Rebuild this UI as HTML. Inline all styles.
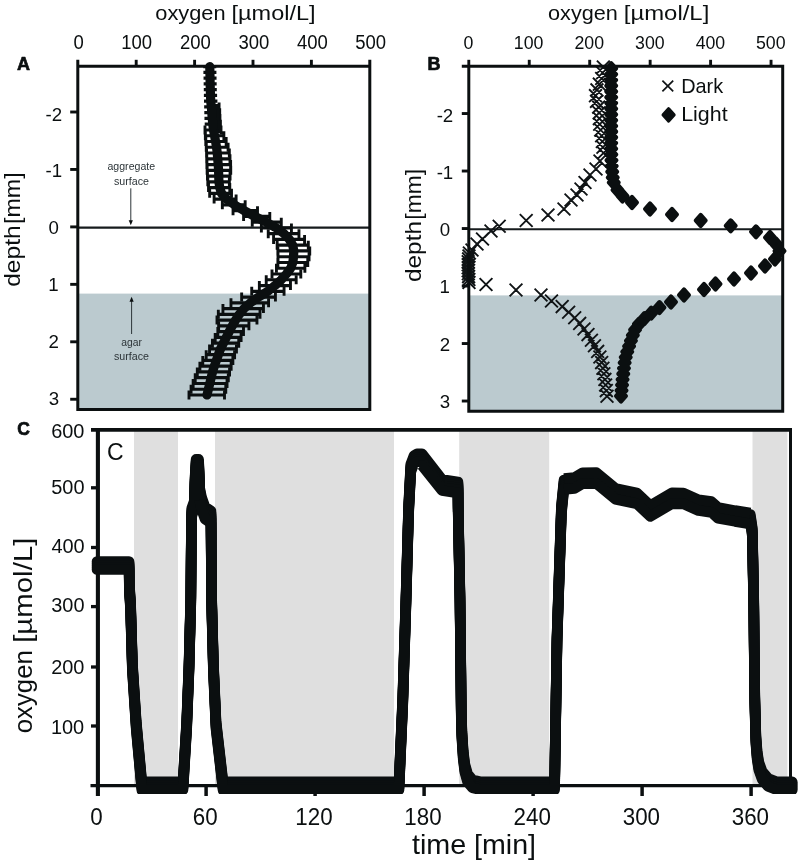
<!DOCTYPE html>
<html lang="en"><head><meta charset="utf-8"><title>Oxygen microprofiles</title>
<style>html,body{margin:0;padding:0;background:#fff}svg{display:block;will-change:transform}text{font-family:'Liberation Sans', 'DejaVu Sans', sans-serif}</style>
</head><body>
<svg width="800" height="862" viewBox="0 0 800 862" font-family="'Liberation Sans', 'DejaVu Sans', sans-serif">
<rect width="800" height="862" fill="#fff"/>
<g id="panelA">
<rect x="77.8" y="293.6" width="292" height="115.9" fill="#bbcacf"/>
<line x1="77.8" y1="227.6" x2="369.8" y2="227.6" stroke="#161b1d" stroke-width="2.1"/>
<clipPath id="clipA"><rect x="77.8" y="66.3" width="292" height="343.2"/></clipPath>
<g clip-path="url(#clipA)">
<path d="M203.28 66.6H216.28M203.41 72.36H216.41M203.54 78.12H216.54M203.66 83.88H216.66M203.79 89.65H216.79M203.88 95.41H217.09M203.97 101.17H217.4M204.16 106.93H219.07M204.32 112.69H219.7M204.46 118.45H219.94M204.71 124.21H220.42M205 129.98H221M205.36 135.74H223.87M205.79 141.5H226.17M206.27 147.26H228.09M206.58 153.02H229.34M206.74 158.78H229.98M206.9 164.54H230.62M207.14 170.31H230.73M207.47 176.07H230.05M207.81 181.83H229.37M208.52 187.59H229.78M209.67 193.35H231.51M214.11 199.11H236.11M222.34 204.87H245.16M233.04 210.64H257.5M243.59 216.4H269.79M252.25 222.16H281.28M261.38 227.92H291.42M268.24 233.68H298.96M273.58 239.44H304.58M277.15 245.2H308.3M277.87 250.96H309.74M278 256.73H309.05M277.88 262.49H307.76M276.44 268.25H304.88M271.99 274.01H300.79M266.23 279.77H296.18M259.36 285.53H290.47M251.73 291.29H284.06M241.65 297.06H275.42M230.97 302.82H268.58M222.94 308.58H263.45M218.33 314.34H260M217 320.1H256.95M218.61 325.86H248.92M217.84 331.62H243.49M215.2 337.39H241.09M212.43 343.15H238.74M209.55 348.91H236.44M206.2 354.67H234.6M202.78 360.43H232.87M199.9 366.19H231.14M197.3 371.95H229.57M195.22 377.72H228.3M193.15 383.48H227.04M191.07 389.24H225.77M189 395H224.5" stroke="#0b0f10" stroke-width="3.2" fill="none"/>
<path d="M219.07 102.43v9M219.7 108.19v9M219.94 113.95v9M220.42 119.71v9M221 125.48v9M205 125.48v9M223.87 131.24v9M205.36 131.24v9M226.17 137v9M205.79 137v9M228.09 142.76v9M206.27 142.76v9M229.34 148.52v9M206.58 148.52v9M229.98 154.28v9M206.74 154.28v9M230.62 160.04v9M206.9 160.04v9M230.73 165.81v9M207.14 165.81v9M230.05 171.57v9M207.47 171.57v9M229.37 177.33v9M207.81 177.33v9M229.78 183.09v9M208.52 183.09v9M231.51 188.85v9M209.67 188.85v9M236.11 194.61v9M214.11 194.61v9M245.16 200.37v9M222.34 200.37v9M257.5 206.14v9M233.04 206.14v9M269.79 211.9v9M243.59 211.9v9M281.28 217.66v9M252.25 217.66v9M291.42 223.42v9M261.38 223.42v9M298.96 229.18v9M268.24 229.18v9M304.58 234.94v9M273.58 234.94v9M308.3 240.7v9M277.15 240.7v9M309.74 246.46v9M277.87 246.46v9M309.05 252.23v9M278 252.23v9M307.76 257.99v9M277.88 257.99v9M304.88 263.75v9M276.44 263.75v9M300.79 269.51v9M271.99 269.51v9M296.18 275.27v9M266.23 275.27v9M290.47 281.03v9M259.36 281.03v9M284.06 286.79v9M251.73 286.79v9M275.42 292.56v9M241.65 292.56v9M268.58 298.32v9M230.97 298.32v9M263.45 304.08v9M222.94 304.08v9M260 309.84v9M218.33 309.84v9M256.95 315.6v9M217 315.6v9M248.92 321.36v9M218.61 321.36v9M243.49 327.12v9M217.84 327.12v9M241.09 332.89v9M215.2 332.89v9M238.74 338.65v9M212.43 338.65v9M236.44 344.41v9M209.55 344.41v9M234.6 350.17v9M206.2 350.17v9M232.87 355.93v9M202.78 355.93v9M231.14 361.69v9M199.9 361.69v9M229.57 367.45v9M197.3 367.45v9M228.3 373.22v9M195.22 373.22v9M227.04 378.98v9M193.15 378.98v9M225.77 384.74v9M191.07 384.74v9M224.5 390.5v9M189 390.5v9" stroke="#0b0f10" stroke-width="2.9" fill="none"/>
<path d="M211.35 106.93H219.07M211.81 112.69H219.7M212.2 118.45H219.94M212.81 124.21H220.42M213.5 129.98H221" stroke="#0b0f10" stroke-width="6" fill="none"/>
</g>
<polyline points="209.78,66.6 209.91,72.36 210.04,78.12 210.16,83.88 210.29,89.65 210.51,95.41 210.73,101.17 211.35,106.93 211.81,112.69 212.2,118.45 212.81,124.21 213.5,129.98 214.58,135.74 215.58,141.5 216.54,147.26 217.25,153.02 217.73,158.78 218.21,164.54 218.57,170.31 218.74,176.07 218.91,181.83 219.78,187.59 221.51,193.35 226.7,199.11 234.52,204.87 244.04,210.64 254.79,216.4 266.28,222.16 276.42,227.92 283.96,233.68 289.37,239.44 292.73,245.2 293.81,250.96 293.53,256.73 292.82,262.49 290.66,268.25 286.39,274.01 281.21,279.77 274.91,285.53 267.9,291.29 258.53,297.06 250.38,302.82 243.94,308.58 239.33,314.34 235.61,320.1 232.25,325.86 229.19,331.62 226.31,337.39 223.43,343.15 220.55,348.91 218.37,354.67 216.35,360.43 214.33,366.19 212.53,371.95 211.15,377.72 209.77,383.48 208.38,389.24 207,395" fill="none" stroke="#0b0f10" stroke-width="9.2" stroke-linejoin="round" stroke-linecap="round"/>
<path d="M77.8 59.8V409.5H369.8V59.8M77.8 66.3H369.8" fill="none" stroke="#0b0f10" stroke-width="3"/>
<text transform="translate(73.55 48.71) scale(0.9550 1)" font-size="19.39" font-weight="normal" fill="#0b0f10">0</text>
<line x1="136.2" y1="59.8" x2="136.2" y2="66.3" stroke="#0b0f10" stroke-width="2.9"/>
<text transform="translate(121.3 48.71) scale(0.9550 1)" font-size="19.39" font-weight="normal" fill="#0b0f10">100</text>
<line x1="194.6" y1="59.8" x2="194.6" y2="66.3" stroke="#0b0f10" stroke-width="2.9"/>
<text transform="translate(179.95 48.71) scale(0.9550 1)" font-size="19.39" font-weight="normal" fill="#0b0f10">200</text>
<line x1="253" y1="59.8" x2="253" y2="66.3" stroke="#0b0f10" stroke-width="2.9"/>
<text transform="translate(238.44 48.71) scale(0.9550 1)" font-size="19.39" font-weight="normal" fill="#0b0f10">300</text>
<line x1="311.4" y1="59.8" x2="311.4" y2="66.3" stroke="#0b0f10" stroke-width="2.9"/>
<text transform="translate(296.99 48.71) scale(0.9550 1)" font-size="19.39" font-weight="normal" fill="#0b0f10">400</text>
<text transform="translate(355.24 48.71) scale(0.9550 1)" font-size="19.39" font-weight="normal" fill="#0b0f10">500</text>
<line x1="70.2" y1="112" x2="77.8" y2="112" stroke="#0b0f10" stroke-width="2.9"/>
<text transform="translate(45.55 120.53)" font-size="18.68" font-weight="normal" fill="#0b0f10">-2</text>
<line x1="70.2" y1="169.45" x2="77.8" y2="169.45" stroke="#0b0f10" stroke-width="2.9"/>
<text transform="translate(45.55 177.47)" font-size="18.68" font-weight="normal" fill="#0b0f10">-1</text>
<line x1="70.2" y1="226.9" x2="77.8" y2="226.9" stroke="#0b0f10" stroke-width="2.9"/>
<text transform="translate(48.6 234.41)" font-size="18.68" font-weight="normal" fill="#0b0f10">0</text>
<line x1="70.2" y1="284.35" x2="77.8" y2="284.35" stroke="#0b0f10" stroke-width="2.9"/>
<text transform="translate(48.35 291.35)" font-size="18.68" font-weight="normal" fill="#0b0f10">1</text>
<line x1="70.2" y1="341.8" x2="77.8" y2="341.8" stroke="#0b0f10" stroke-width="2.9"/>
<text transform="translate(48.6 348.29)" font-size="18.68" font-weight="normal" fill="#0b0f10">2</text>
<line x1="70.2" y1="399.25" x2="77.8" y2="399.25" stroke="#0b0f10" stroke-width="2.9"/>
<text transform="translate(48.63 405.23)" font-size="18.68" font-weight="normal" fill="#0b0f10">3</text>
<text transform="translate(155.25 19.7) scale(1.0390 1)" font-size="21" font-weight="normal" fill="#0b0f10">oxygen</text>
<text transform="translate(231.55 19.7) scale(1.1196 1)" font-size="21" font-weight="normal" fill="#0b0f10">[µmol/L]</text>
<text transform="translate(20.4 286.82) rotate(-90) scale(1.0785 1)" font-size="22.8" font-weight="normal" fill="#0b0f10">depth</text>
<text transform="translate(20.4 224.03) rotate(-90) scale(1.0206 1)" font-size="22.8" font-weight="normal" fill="#0b0f10">[mm]</text>
<text transform="translate(17 70.2)" font-size="18" text-anchor="start" font-weight="bold" fill="#0b0f10" stroke="#0b0f10" stroke-width="0.7" stroke-linejoin="round">A</text>
<text transform="translate(131.3 169.9) scale(1.0405 1)" font-size="10.2" text-anchor="middle" font-weight="normal" fill="#2c3438">aggregate</text>
<text transform="translate(131.5 184.5) scale(1.0463 1)" font-size="10.2" text-anchor="middle" font-weight="normal" fill="#2c3438">surface</text>
<path d="M130.8 188.3V221" stroke="#2c3438" stroke-width="1" fill="none"/>
<path d="M128.7 220.2H132.9L130.8 225.3Z" fill="#0b0f10"/>
<path d="M131.6 334V301" stroke="#2c3438" stroke-width="1" fill="none"/>
<path d="M129.5 301.8H133.7L131.6 296.8Z" fill="#0b0f10"/>
<text transform="translate(131.6 345.5) scale(1.0139 1)" font-size="10.2" text-anchor="middle" font-weight="normal" fill="#2c3438">agar</text>
<text transform="translate(131.5 360) scale(1.0463 1)" font-size="10.2" text-anchor="middle" font-weight="normal" fill="#2c3438">surface</text>
</g>
<g id="panelB">
<rect x="468.8" y="295.4" width="313.9" height="115.8" fill="#bbcacf"/>
<line x1="468.8" y1="229.3" x2="782.7" y2="229.3" stroke="#161b1d" stroke-width="2.1"/>
<path d="M596.91 60.6l12.8 12.8M596.91 73.4l12.8 -12.8M596.2 66.33l12.8 12.8M596.2 79.13l12.8 -12.8M595.25 72.06l12.8 12.8M595.25 84.86l12.8 -12.8M592.93 77.79l12.8 12.8M592.93 90.59l12.8 -12.8M590.55 83.52l12.8 12.8M590.55 96.32l12.8 -12.8M589.09 89.25l12.8 12.8M589.09 102.05l12.8 -12.8M590.11 94.98l12.8 12.8M590.11 107.78l12.8 -12.8M592.24 100.71l12.8 12.8M592.24 113.51l12.8 -12.8M592.76 106.44l12.8 12.8M592.76 119.24l12.8 -12.8M592.95 112.17l12.8 12.8M592.95 124.97l12.8 -12.8M593.32 117.9l12.8 12.8M593.32 130.7l12.8 -12.8M594.27 123.63l12.8 12.8M594.27 136.43l12.8 -12.8M595.23 129.36l12.8 12.8M595.23 142.16l12.8 -12.8M595.95 135.09l12.8 12.8M595.95 147.89l12.8 -12.8M596.52 140.82l12.8 12.8M596.52 153.62l12.8 -12.8M597.1 146.55l12.8 12.8M597.1 159.35l12.8 -12.8M593.6 154.6l12.8 12.8M593.6 167.4l12.8 -12.8M589.6 162.6l12.8 12.8M589.6 175.4l12.8 -12.8M583.6 168.6l12.8 12.8M583.6 181.4l12.8 -12.8M578.6 176.1l12.8 12.8M578.6 188.9l12.8 -12.8M574.6 182.6l12.8 12.8M574.6 195.4l12.8 -12.8M570.6 188.6l12.8 12.8M570.6 201.4l12.8 -12.8M564.6 193.6l12.8 12.8M564.6 206.4l12.8 -12.8M557.6 202.6l12.8 12.8M557.6 215.4l12.8 -12.8M541.6 208.6l12.8 12.8M541.6 221.4l12.8 -12.8M519.8 214.1l12.8 12.8M519.8 226.9l12.8 -12.8M492.8 219.8l12.8 12.8M492.8 232.6l12.8 -12.8M484.6 224.6l12.8 12.8M484.6 237.4l12.8 -12.8M476.1 232.6l12.8 12.8M476.1 245.4l12.8 -12.8M470.6 237.6l12.8 12.8M470.6 250.4l12.8 -12.8M465.6 243.6l12.8 12.8M465.6 256.4l12.8 -12.8M462.97 246.6l12.8 12.8M462.97 259.4l12.8 -12.8M462.59 249.55l12.8 12.8M462.59 262.35l12.8 -12.8M462.2 252.5l12.8 12.8M462.2 265.3l12.8 -12.8M461.82 255.45l12.8 12.8M461.82 268.25l12.8 -12.8M461.8 258.4l12.8 12.8M461.8 271.2l12.8 -12.8M461.8 261.35l12.8 12.8M461.8 274.15l12.8 -12.8M461.8 264.3l12.8 12.8M461.8 277.1l12.8 -12.8M461.95 267.25l12.8 12.8M461.95 280.05l12.8 -12.8M462.21 270.2l12.8 12.8M462.21 283l12.8 -12.8M462.47 273.15l12.8 12.8M462.47 285.95l12.8 -12.8M462.6 276.1l12.8 12.8M462.6 288.9l12.8 -12.8M479.6 278.1l12.8 12.8M479.6 290.9l12.8 -12.8M509.6 283.6l12.8 12.8M509.6 296.4l12.8 -12.8M534.6 288.6l12.8 12.8M534.6 301.4l12.8 -12.8M545.1 294.6l12.8 12.8M545.1 307.4l12.8 -12.8M555.79 300.2l12.8 12.8M555.79 313l12.8 -12.8M562.25 305.8l12.8 12.8M562.25 318.6l12.8 -12.8M568.31 311.4l12.8 12.8M568.31 324.2l12.8 -12.8M573.27 317l12.8 12.8M573.27 329.8l12.8 -12.8M577.6 322.6l12.8 12.8M577.6 335.4l12.8 -12.8M581.59 328.2l12.8 12.8M581.59 341l12.8 -12.8M585.04 333.8l12.8 12.8M585.04 346.6l12.8 -12.8M588.06 339.4l12.8 12.8M588.06 352.2l12.8 -12.8M591.26 345l12.8 12.8M591.26 357.8l12.8 -12.8M593.48 350.6l12.8 12.8M593.48 363.4l12.8 -12.8M595.25 356.2l12.8 12.8M595.25 369l12.8 -12.8M596.49 361.8l12.8 12.8M596.49 374.6l12.8 -12.8M597.49 367.4l12.8 12.8M597.49 380.2l12.8 -12.8M598.49 373l12.8 12.8M598.49 385.8l12.8 -12.8M599.23 378.6l12.8 12.8M599.23 391.4l12.8 -12.8M599.93 384.2l12.8 12.8M599.93 397l12.8 -12.8M600.6 389.8l12.8 12.8M600.6 402.6l12.8 -12.8" stroke="#101416" stroke-width="1.9" fill="none"/>
<path d="M611.2 63.4L615.8 68.6L611.2 73.8L606.6 68.6ZM611.2 69.13L615.8 74.33L611.2 79.53L606.6 74.33ZM611.2 74.86L615.8 80.06L611.2 85.26L606.6 80.06ZM611.2 80.59L615.8 85.79L611.2 90.99L606.6 85.79ZM611.2 86.32L615.8 91.52L611.2 96.72L606.6 91.52ZM611.2 92.05L615.8 97.25L611.2 102.45L606.6 97.25ZM611.2 97.78L615.8 102.98L611.2 108.18L606.6 102.98ZM611.2 103.51L615.8 108.71L611.2 113.91L606.6 108.71ZM611.2 109.24L615.8 114.44L611.2 119.64L606.6 114.44ZM611.2 114.97L615.8 120.17L611.2 125.37L606.6 120.17ZM611.2 120.7L615.8 125.9L611.2 131.1L606.6 125.9ZM611.2 126.43L615.8 131.63L611.2 136.83L606.6 131.63ZM611.2 132.16L615.8 137.36L611.2 142.56L606.6 137.36ZM611.2 137.89L615.8 143.09L611.2 148.29L606.6 143.09ZM611.2 143.62L615.8 148.82L611.2 154.02L606.6 148.82ZM611.32 149.35L615.92 154.55L611.32 159.75L606.72 154.55ZM611.47 155.08L616.07 160.28L611.47 165.48L606.87 160.28ZM611.69 160.81L616.29 166.01L611.69 171.21L607.09 166.01ZM612.22 166.54L616.82 171.74L612.22 176.94L607.62 171.74ZM612.75 172.27L617.35 177.47L612.75 182.67L608.15 177.47ZM613.75 177.3L618.35 182.5L613.75 187.7L609.15 182.5ZM617.5 184.8L622.1 190L617.5 195.2L612.9 190ZM622.5 190.8L627.1 196L622.5 201.2L617.9 196ZM632 197.3L636.6 202.5L632 207.7L627.4 202.5ZM650 203.8L654.6 209L650 214.2L645.4 209ZM672 209.3L676.6 214.5L672 219.7L667.4 214.5ZM700.7 215.3L705.3 220.5L700.7 225.7L696.1 220.5ZM730.7 220.6L735.3 225.8L730.7 231L726.1 225.8ZM756 226.6L760.6 231.8L756 237L751.4 231.8ZM770 232.3L774.6 237.5L770 242.7L765.4 237.5ZM776 238.8L780.6 244L776 249.2L771.4 244ZM779.5 245.8L784.1 251L779.5 256.2L774.9 251ZM775 253.8L779.6 259L775 264.2L770.4 259ZM765 260.8L769.6 266L765 271.2L760.4 266ZM751 267.8L755.6 273L751 278.2L746.4 273ZM734 273.8L738.6 279L734 284.2L729.4 279ZM715.5 278.8L720.1 284L715.5 289.2L710.9 284ZM704 284.3L708.6 289.5L704 294.7L699.4 289.5ZM684 289.8L688.6 295L684 300.2L679.4 295ZM671 296.8L675.6 302L671 307.2L666.4 302ZM659.46 302.33L664.06 307.53L659.46 312.73L654.86 307.53ZM651.29 307.86L655.89 313.06L651.29 318.26L646.69 313.06ZM644.41 313.39L649.01 318.59L644.41 323.79L639.81 318.59ZM638.92 318.92L643.52 324.12L638.92 329.32L634.32 324.12ZM635.09 324.45L639.69 329.65L635.09 334.85L630.49 329.65ZM632.83 329.98L637.43 335.18L632.83 340.38L628.23 335.18ZM630.93 335.51L635.53 340.71L630.93 345.91L626.33 340.71ZM629.09 341.04L633.69 346.24L629.09 351.44L624.49 346.24ZM627.25 346.56L631.85 351.76L627.25 356.96L622.65 351.76ZM625.72 352.09L630.32 357.29L625.72 362.49L621.12 357.29ZM624.65 357.62L629.25 362.82L624.65 368.02L620.05 362.82ZM623.96 363.15L628.56 368.35L623.96 373.55L619.36 368.35ZM623.26 368.68L627.86 373.88L623.26 379.08L618.66 373.88ZM622.57 374.21L627.17 379.41L622.57 384.61L617.97 379.41ZM622.04 379.74L626.64 384.94L622.04 390.14L617.44 384.94ZM621.52 385.27L626.12 390.47L621.52 395.67L616.92 390.47ZM621 390.8L625.6 396L621 401.2L616.4 396Z" fill="#0b0f10" stroke="#0b0f10" stroke-width="4.6" stroke-linejoin="round"/>
<path d="M468.8 66.3V411.2H782.7V66.3M461.8 66.3H784.2" fill="none" stroke="#0b0f10" stroke-width="3"/>
<line x1="468.8" y1="59.8" x2="468.8" y2="66.3" stroke="#0b0f10" stroke-width="2.9"/>
<text transform="translate(463.56 48.61) scale(0.9500 1)" font-size="18.68" font-weight="normal" fill="#0b0f10">0</text>
<line x1="529.25" y1="59.8" x2="529.25" y2="66.3" stroke="#0b0f10" stroke-width="2.9"/>
<text transform="translate(513.81 48.61) scale(0.9500 1)" font-size="18.68" font-weight="normal" fill="#0b0f10">100</text>
<line x1="589.7" y1="59.8" x2="589.7" y2="66.3" stroke="#0b0f10" stroke-width="2.9"/>
<text transform="translate(574.49 48.61) scale(0.9500 1)" font-size="18.68" font-weight="normal" fill="#0b0f10">200</text>
<line x1="650.15" y1="59.8" x2="650.15" y2="66.3" stroke="#0b0f10" stroke-width="2.9"/>
<text transform="translate(635.03 48.61) scale(0.9500 1)" font-size="18.68" font-weight="normal" fill="#0b0f10">300</text>
<line x1="710.6" y1="59.8" x2="710.6" y2="66.3" stroke="#0b0f10" stroke-width="2.9"/>
<text transform="translate(695.63 48.61) scale(0.9500 1)" font-size="18.68" font-weight="normal" fill="#0b0f10">400</text>
<line x1="771.05" y1="59.8" x2="771.05" y2="66.3" stroke="#0b0f10" stroke-width="2.9"/>
<text transform="translate(755.93 48.61) scale(0.9500 1)" font-size="18.68" font-weight="normal" fill="#0b0f10">500</text>
<line x1="461.8" y1="113.53" x2="468.8" y2="113.53" stroke="#0b0f10" stroke-width="2.9"/>
<text transform="translate(436.65 121.97)" font-size="18.68" font-weight="normal" fill="#0b0f10">-2</text>
<line x1="461.8" y1="171.03" x2="468.8" y2="171.03" stroke="#0b0f10" stroke-width="2.9"/>
<text transform="translate(436.65 179.14)" font-size="18.68" font-weight="normal" fill="#0b0f10">-1</text>
<line x1="461.8" y1="228.53" x2="468.8" y2="228.53" stroke="#0b0f10" stroke-width="2.9"/>
<text transform="translate(439.7 236.31)" font-size="18.68" font-weight="normal" fill="#0b0f10">0</text>
<line x1="461.8" y1="286.03" x2="468.8" y2="286.03" stroke="#0b0f10" stroke-width="2.9"/>
<text transform="translate(439.45 293.48)" font-size="18.68" font-weight="normal" fill="#0b0f10">1</text>
<line x1="461.8" y1="343.53" x2="468.8" y2="343.53" stroke="#0b0f10" stroke-width="2.9"/>
<text transform="translate(439.7 350.65)" font-size="18.68" font-weight="normal" fill="#0b0f10">2</text>
<line x1="461.8" y1="401.03" x2="468.8" y2="401.03" stroke="#0b0f10" stroke-width="2.9"/>
<text transform="translate(439.73 407.82)" font-size="18.68" font-weight="normal" fill="#0b0f10">3</text>
<text transform="translate(548.06 19.8) scale(1.0313 1)" font-size="21" font-weight="normal" fill="#0b0f10">oxygen</text>
<text transform="translate(623.83 19.8) scale(1.1376 1)" font-size="21" font-weight="normal" fill="#0b0f10">[µmol/L]</text>
<text transform="translate(421 282.06) rotate(-90) scale(1.0702 1)" font-size="22.8" font-weight="normal" fill="#0b0f10">depth</text>
<text transform="translate(421 219.7) rotate(-90) scale(1.0037 1)" font-size="22.8" font-weight="normal" fill="#0b0f10">[mm]</text>
<text transform="translate(427.5 70.2)" font-size="18" text-anchor="start" font-weight="bold" fill="#0b0f10" stroke="#0b0f10" stroke-width="0.7" stroke-linejoin="round">B</text>
<path d="M662.4 80.6l10.8 10.8M662.4 91.4l10.8 -10.8" stroke="#101416" stroke-width="1.7" fill="none"/>
<path d="M668.6 108.9L674 114.9L668.6 120.9L663.2 114.9Z" fill="#0b0f10" stroke="#0b0f10" stroke-width="3.4" stroke-linejoin="round"/>
<text transform="translate(681.2 92.7) scale(0.9751 1)" font-size="20.4" text-anchor="start" font-weight="normal" fill="#0b0f10">Dark</text>
<text transform="translate(681.2 121.3) scale(1.0511 1)" font-size="20.4" text-anchor="start" font-weight="normal" fill="#0b0f10">Light</text>
</g>
<g id="panelC">
<rect x="134" y="430" width="44" height="355.5" fill="#dfdfdf"/>
<rect x="215" y="430" width="179" height="355.5" fill="#dfdfdf"/>
<rect x="459.2" y="430" width="90" height="355.5" fill="#dfdfdf"/>
<rect x="752.5" y="430" width="34.9" height="355.5" fill="#dfdfdf"/>
<line x1="91" y1="429.9" x2="792" y2="429.9" stroke="#0b0f10" stroke-width="3.7"/>
<line x1="790.5" y1="429.9" x2="790.5" y2="787" stroke="#0b0f10" stroke-width="3.0"/>
<line x1="97.9" y1="429.9" x2="97.9" y2="796" stroke="#0b0f10" stroke-width="4.1"/>
<line x1="90.5" y1="785.55" x2="792" y2="785.55" stroke="#0b0f10" stroke-width="3.3"/>
<text transform="translate(90.17 825.12) scale(0.9700 1)" font-size="23.07" font-weight="normal" fill="#0b0f10">0</text>
<line x1="206.1" y1="785.5" x2="206.1" y2="796" stroke="#0b0f10" stroke-width="3.5"/>
<text transform="translate(192.83 825.12) scale(0.9700 1)" font-size="23.07" font-weight="normal" fill="#0b0f10">60</text>
<line x1="315.1" y1="785.5" x2="315.1" y2="796" stroke="#0b0f10" stroke-width="3.5"/>
<text transform="translate(295.31 825.12) scale(0.9700 1)" font-size="23.07" font-weight="normal" fill="#0b0f10">120</text>
<line x1="424.1" y1="785.5" x2="424.1" y2="796" stroke="#0b0f10" stroke-width="3.5"/>
<text transform="translate(404.31 825.12) scale(0.9700 1)" font-size="23.07" font-weight="normal" fill="#0b0f10">180</text>
<line x1="533.1" y1="785.5" x2="533.1" y2="796" stroke="#0b0f10" stroke-width="3.5"/>
<text transform="translate(513.61 825.12) scale(0.9700 1)" font-size="23.07" font-weight="normal" fill="#0b0f10">240</text>
<line x1="642.1" y1="785.5" x2="642.1" y2="796" stroke="#0b0f10" stroke-width="3.5"/>
<text transform="translate(622.72 825.12) scale(0.9700 1)" font-size="23.07" font-weight="normal" fill="#0b0f10">300</text>
<line x1="751.1" y1="785.5" x2="751.1" y2="796" stroke="#0b0f10" stroke-width="3.5"/>
<text transform="translate(731.72 825.12) scale(0.9700 1)" font-size="23.07" font-weight="normal" fill="#0b0f10">360</text>
<line x1="91" y1="726" x2="98" y2="726" stroke="#0b0f10" stroke-width="3.3"/>
<line x1="91" y1="667" x2="98" y2="667" stroke="#0b0f10" stroke-width="3.3"/>
<line x1="91" y1="606.6" x2="98" y2="606.6" stroke="#0b0f10" stroke-width="3.3"/>
<line x1="91" y1="547.5" x2="98" y2="547.5" stroke="#0b0f10" stroke-width="3.3"/>
<line x1="91" y1="487.8" x2="98" y2="487.8" stroke="#0b0f10" stroke-width="3.3"/>
<text transform="translate(50.89 734.49) scale(0.9650 1)" font-size="20.66" font-weight="normal" fill="#0b0f10">100</text>
<text transform="translate(51.15 674.09) scale(0.9650 1)" font-size="20.66" font-weight="normal" fill="#0b0f10">200</text>
<text transform="translate(51.25 612.39) scale(0.9650 1)" font-size="20.66" font-weight="normal" fill="#0b0f10">300</text>
<text transform="translate(51.42 553.19) scale(0.9650 1)" font-size="20.66" font-weight="normal" fill="#0b0f10">400</text>
<text transform="translate(51.25 493.99) scale(0.9650 1)" font-size="20.66" font-weight="normal" fill="#0b0f10">500</text>
<text transform="translate(51.15 438.29) scale(0.9650 1)" font-size="20.66" font-weight="normal" fill="#0b0f10">600</text>
<defs><polyline id="cv" points="97,565.5 129.1,565.5 129.4,590 130.5,604 132.4,667 136.2,725 141.8,785.9 183,785.9 186.7,725 189,667 190.8,600 191.5,520 191.8,512 194.3,505 195.1,480 196.1,463.4 198.6,463.4 199.3,480 199.7,492 201.5,501 205,511 211,515 211.6,600 213.4,667 216,725 223,785.9 399,785.9 402.8,700 406,600 408.6,510 410.8,468 414,459.5 417,457.8 422,457.8 442,483.5 458,486 458.2,510 460,600 461.3,715 461.9,735 463.2,755 464.8,768 467.6,778 472.5,783.8 481,785.9 554.6,785.9 557,640 561.4,510 564,484 574.5,483 582.5,478.2 596.3,478 615.4,493.8 636.8,498.3 650.3,511 672,498.3 683.5,498.5 698.5,505.2 711.5,507 718,512.8 735,516 750.3,518.5 752.3,532 753.7,600 754.8,700 755.9,740 757.1,755 758.8,766 762.2,775.5 768,782.3 777,785.9 792.3,785.9" fill="none" stroke="#0b0f10" stroke-width="10.6" stroke-linejoin="round" stroke-linecap="round"/></defs>
<clipPath id="clipC"><rect x="80" y="420" width="720" height="373.9"/></clipPath>
<g clip-path="url(#clipC)">
<use href="#cv" y="-4"/>
<use href="#cv" y="-2"/>
<use href="#cv" y="0"/>
<use href="#cv" y="2"/>
<use href="#cv" y="4"/>
</g>
<polyline points="199.7,492 201.5,501 205,511 211,515 211.3,532" transform="translate(0 8)" fill="none" stroke="#0b0f10" stroke-width="10.6" stroke-linejoin="round" stroke-linecap="butt"/>
<polyline points="419,459 422,458.5 442,483.5 458,486 458.2,505" transform="translate(0 7)" fill="none" stroke="#0b0f10" stroke-width="10.6" stroke-linejoin="round" stroke-linecap="butt"/>
<polyline points="564,484 574.5,483 582.5,478.2 596.3,478 615.4,493.8 636.8,498.3 650.3,511 672,498.3 683.5,498.5 698.5,505.2 711.5,507 718,512.8 735,516 750.3,518.5" transform="translate(0 -5.4)" fill="none" stroke="#0b0f10" stroke-width="10.6" stroke-linejoin="round" stroke-linecap="butt"/>
<polyline points="564,484 574.5,483 582.5,478.2 596.3,478 615.4,493.8 636.8,498.3 650.3,511 672,498.3 683.5,498.5 698.5,505.2 711.5,507 718,512.8 735,516 750.3,518.5" transform="translate(0 5.4)" fill="none" stroke="#0b0f10" stroke-width="10.6" stroke-linejoin="round" stroke-linecap="butt"/>
<text transform="translate(107 459.6)" font-size="23" text-anchor="start" font-weight="normal" fill="#0b0f10">C</text>
<text transform="translate(17.2 435.2)" font-size="17.5" text-anchor="start" font-weight="bold" fill="#0b0f10" stroke="#0b0f10" stroke-width="0.7" stroke-linejoin="round">C</text>
<text transform="translate(31.7 733.32) rotate(-90) scale(1.0077 1)" font-size="25.6" font-weight="normal" fill="#0b0f10">oxygen</text>
<text transform="translate(31.7 642.86) rotate(-90) scale(1.1491 1)" font-size="25.6" font-weight="normal" fill="#0b0f10">[µmol/L]</text>
<text transform="translate(411.92 854) scale(1.0265 1)" font-size="28" font-weight="normal" fill="#0b0f10">time</text>
<text transform="translate(474 854) scale(1.0221 1)" font-size="28" font-weight="normal" fill="#0b0f10">[min]</text>
</g>
</svg></body></html>
